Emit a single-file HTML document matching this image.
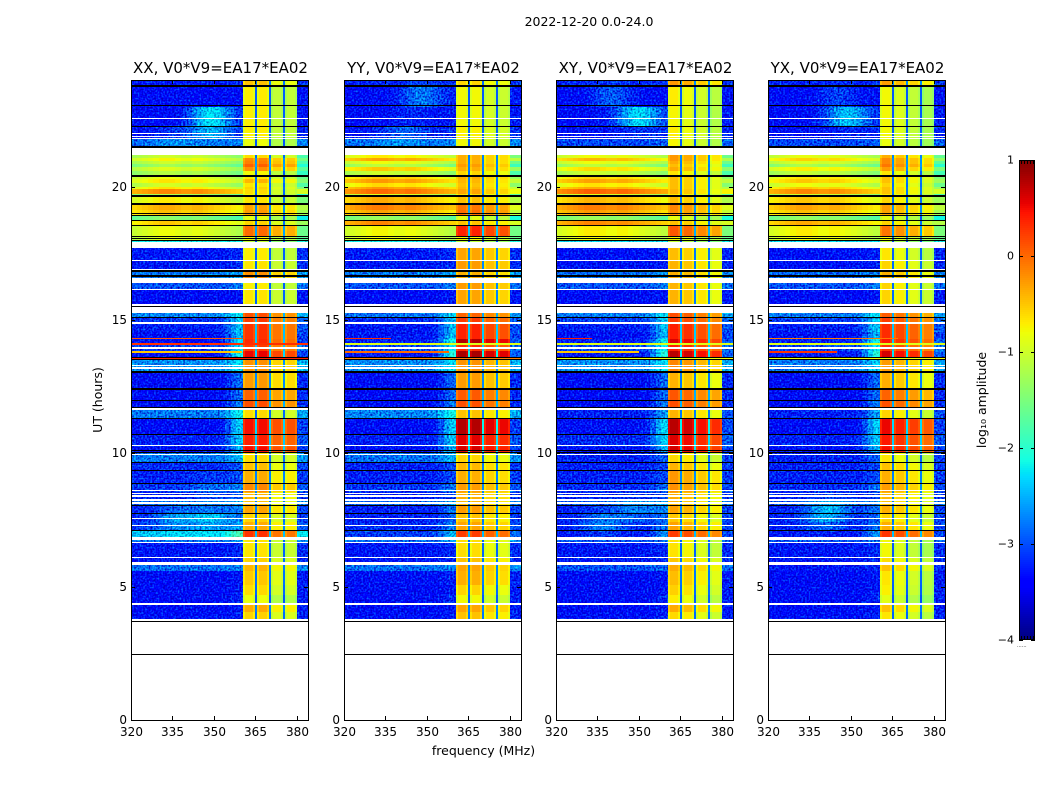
<!DOCTYPE html>
<html lang="en">
<head>
<meta charset="utf-8">
<title>2022-12-20 0.0-24.0</title>
<style>
html,body{margin:0;padding:0;background:#fff;width:1050px;height:800px;overflow:hidden}
svg{display:block}
text{font-family:"DejaVu Sans","Liberation Sans",sans-serif;fill:#000}
</style>
</head>
<body>
<svg id="figure" xmlns="http://www.w3.org/2000/svg" width="1050" height="800" viewBox="0 0 1050 800">
  <defs>
    <filter id="speckle" filterUnits="userSpaceOnUse" x="0" y="0" width="1050" height="800" color-interpolation-filters="sRGB">
      <feTurbulence type="fractalNoise" baseFrequency="0.55" numOctaves="1" seed="4" result="t"/>
      <feColorMatrix in="t" type="matrix" values="0 0 0 0 0.5  1.5 0 0 0 -0.25  1.1 0 0 0 -0.05  0 0 0 0 1" result="n"/>
      <feComposite in="SourceGraphic" in2="n" operator="arithmetic" k1="0" k2="1" k3="1" k4="-0.5" result="m"/>
      <feComposite in="m" in2="SourceAlpha" operator="in"/>
    </filter>
  </defs>
  <text x="589" y="26" font-size="12.5" text-anchor="middle">2022-12-20 0.0-24.0</text>
  <text transform="translate(102,400) rotate(-90)" font-size="12.5" text-anchor="middle">UT (hours)</text>
  <text x="483.5" y="755" font-size="12.5" text-anchor="middle">frequency (MHz)</text>
  <text transform="translate(986,400) rotate(-90)" font-size="12.5" text-anchor="middle">log₁₀ amplitude</text>
  <g id="panels"></g>
  <g id="colorbar"></g>
</svg>
<script>
// ---- chart data ----
const panelTitles = ["XX, V0*V9=EA17*EA02", "YY, V0*V9=EA17*EA02", "XY, V0*V9=EA17*EA02", "YX, V0*V9=EA17*EA02"];
const freqTicks = [320, 335, 350, 365, 380];
const utTicks = [0, 5, 10, 15, 20];
const colorbarTicks = [1, 0, -1, -2, -3, -4];

// time rows (UT hours, top to bottom)
const rowEdges = [24.00,23.74,22.99,22.24,21.79,21.19,21.08,20.96,20.85,20.74,20.59,20.40,20.29,20.14,19.99,19.91,19.73,19.61,19.31,19.13,18.90,18.71,18.53,18.15,17.96,17.70,17.21,16.80,16.39,16.13,15.26,15.08,14.85,14.55,14.29,14.10,13.84,13.58,13.01,12.41,11.96,11.63,11.29,10.69,10.24,10.01,9.64,9.34,8.85,8.55,8.25,8.06,7.73,7.43,7.13,6.86,6.64,6.08,5.85,5.59,5.06,4.69,4.35,4.05,3.77];

// log10 amplitude of the 320-360 MHz band per time row
const lowXX = [-3.3,-3.45,-3.45,-3.35,-2.9,-1.2,-.95,-1.2,-1.45,-1.1,-1.35,-1.0,-.85,-1.15,-.85,-.35,-1.4,-.9,-.55,-.65,-1.6,-.7,-1.0,-1.1,-2.2,-3.3,-3.3,-2.8,-3.0,-3.45,-2.75,-3.15,-3.25,-3.35,-3.4,-3.1,-3.4,-2.7,-3.4,-3.4,-3.4,-2.8,-3.4,-3.25,-3.35,-2.8,-3.2,-3.25,-3.15,-3.25,-2.9,-3.25,-3.25,-3.15,-2.45,-2.85,-3.3,-3.3,-2.85,-3.4,-3.4,-3.4,-3.4,-3.35];
const lowYY = [-3.25,-3.4,-3.4,-3.3,-2.85,-.9,-.5,-1.0,-1.3,-.7,-1.2,-.7,-.45,-.8,-.45,-.2,-1.1,-.55,-.3,-.5,-1.5,-.35,-.95,-1.0,-2.2,-3.3,-3.3,-2.8,-3.0,-3.4,-2.85,-3.2,-3.3,-3.3,-3.25,-3.05,-3.3,-2.7,-3.4,-3.4,-3.4,-2.75,-3.4,-3.25,-3.35,-2.85,-3.25,-3.25,-3.15,-3.25,-2.9,-3.25,-3.25,-3.2,-3.1,-2.85,-3.3,-3.3,-2.85,-3.35,-3.4,-3.4,-3.4,-3.35];
const lowXY = [-3.25,-3.45,-3.4,-3.35,-3.05,-1.0,-.6,-1.0,-1.3,-.8,-1.2,-.75,-.5,-.85,-.55,-.15,-1.1,-.6,-.3,-.45,-1.5,-.35,-.9,-1.0,-2.3,-3.35,-3.35,-2.85,-3.0,-3.4,-2.8,-3.1,-3.25,-3.35,-3.25,-3.05,-3.3,-2.7,-3.4,-3.4,-3.4,-3.25,-3.35,-3.2,-3.35,-3.25,-3.25,-3.25,-3.2,-3.25,-3.0,-3.25,-3.25,-3.25,-3.3,-3.0,-3.3,-3.3,-3.0,-3.4,-3.4,-3.4,-3.4,-3.35];
const lowYX = [-3.25,-3.45,-3.4,-3.35,-3.05,-1.05,-.75,-1.1,-1.4,-.9,-1.25,-.85,-.7,-1.0,-.7,-.35,-1.2,-.7,-.5,-.65,-1.55,-.55,-.9,-1.0,-2.3,-3.35,-3.35,-2.9,-3.0,-3.4,-2.8,-3.1,-3.25,-3.35,-3.25,-3.05,-3.3,-2.8,-3.4,-3.4,-3.4,-3.25,-3.4,-3.25,-3.35,-3.25,-3.25,-3.25,-3.2,-3.25,-3.0,-3.25,-3.25,-3.25,-3.3,-3.0,-3.3,-3.3,-3.3,-3.4,-3.4,-3.4,-3.4,-3.35];

// log10 amplitude of the 360-380 MHz band per time row
const highXX = [-.6,-.85,-.85,-.85,-.95,-.75,-.3,-.25,-.1,-.35,-.9,-.8,-.55,-.8,-.7,-.75,-.9,-.8,-.45,-.4,-1,-.7,-.15,-.9,-1.2,-.85,-.8,-.35,-.85,-.8,0,.1,.15,.15,.2,.1,.4,-.35,-.4,-.1,0,-.75,.35,.25,.35,-.75,-.6,-.5,-.3,-.55,-.6,-.45,-.7,-.5,.15,-.8,-.8,-.7,-.55,-.65,-.75,-.95,-.5,-.7];
const highYY = [-.7,-.9,-.9,-.85,-.9,-.5,-.5,-.5,-.4,-.5,-.7,-.5,-.55,-.6,-.55,-.45,-.75,-.6,-.2,-.15,-1,-.6,.25,-.9,-1.2,-.45,-.4,-.5,-.4,-.45,-.1,.1,.25,.25,.65,.2,.7,-.35,-.4,-.05,0,-.6,.65,.45,.5,-.7,-.55,-.5,-.4,-.5,-.55,-.4,-.6,-.45,.1,-.75,-.75,-.6,-.45,-.5,-.7,-.9,-.45,-.6];
const highXY = [-.4,-.85,-.9,-.85,-.9,-.4,-.4,-.5,-.6,-.5,-.8,-.6,-.6,-.6,-.6,-.55,-.8,-.6,-.3,-.35,-1,-.6,-.05,-.9,-1.2,-.6,-.55,-.5,-.55,-.55,0,.1,.25,.25,.45,.25,.6,-.3,-.55,-.05,0,-.55,.6,.45,.5,-.75,-.55,-.4,-.35,-.5,-.55,-.45,-.65,-.45,.1,-.8,-.8,-.65,-.5,-.6,-.7,-.85,-.5,-.75];
const highYX = [-.4,-.9,-.9,-.9,-.95,-.5,-.3,-.3,-.2,-.4,-.8,-.6,-.6,-.7,-.6,-.6,-.8,-.7,-.4,-.45,-1,-.7,-.2,-.9,-1.2,-.8,-.7,-.5,-.7,-.7,-.05,.1,.2,.2,.3,.15,.5,-.4,-.5,-.1,0,-.7,.4,.3,.35,-.8,-.6,-.5,-.4,-.55,-.6,-.5,-.7,-.5,.15,-.9,-.9,-.75,-.6,-.8,-.85,-1.0,-.6,-.8];

// rise toward 360 MHz per time row
const rowRamp = [.1,.1,.1,.1,.1,0,0,0,0,0,0,0,0,0,0,0,0,0,0,0,0,0,0,0,0,.1,.1,.2,.2,.1,.5,.7,.8,.8,1.1,.8,1.25,.4,.5,.5,.6,.6,1.0,.8,.8,.3,.2,.2,.3,.2,.3,.4,.3,.4,.6,.2,.1,.1,.1,.1,.1,.2,.1,.1];

// frequency columns (MHz)
const lowEdges = [320,322,324,326,328,330,332,334,336,338,340,342,344,346,348,350,352,354,356,358,360.4];
const brightShape = [-.05,0,.05,.1,.15,.2,.2,.2,.15,.1,.1,.15,.15,.1,.05,0,-.05,-.1,-.15,-.2];
const rampShape = [0,0,0,0,0,0,0,0,0,0,0,0,0,0,0,.03,.12,.4,.75,1];
const channelEdges = [[360.4,361.2,364,364.8],[365.5,366.2,369.3,370],[370.7,371.4,374.3,375],[375.6,376.3,379.3,380]];
const channelShape = [-.14,.03,-.12];
const chanXX = [.1,.12,-.25,-.25];
const chanYY = [.1,.1,-.1,-.15];
const chanXY = [.12,.02,-.15,-.3];
const chanYX = [.1,-.05,-.2,-.35];

// broad diffuse emission patches: panel, UT, MHz, log10 boost
const blobPanel = [0,0,0,0,0,0,1,1,1,2,2,2,2,3,3,3,3];
const blobUt = [22.55,22.05,21.75,7.55,7.55,8.7,23.4,22.3,21.8,22.55,23.35,7.9,7.4,22.6,23.2,7.95,7.6];
const blobFreq = [349,349,335,349,336,349,348,345,340,350,340,349,337,349,345,343,340];
const blobAmp = [1.1,.6,.3,.8,.6,.3,.6,.3,.3,1.1,.5,.5,.5,.9,.4,.5,.5];

// narrow interference lines: UT, per-panel level and upper frequency
const hotUt = [14.32,14.10,13.80,13.57];
const hotXX = [.1,.3,-.5,.4];
const hotYY = [.3,-.9,.0,-.1];
const hotXY = [.4,-.9,-.5,-.8];
const hotYX = [-.1,-.9,.3,-.8];
const hotEndXX = [360,384,360,384];
const hotEndYY = [337,384,358,384];
const hotEndXY = [333,384,350,384];
const hotEndYX = [367,384,345,384];

// flagged time ranges (UT hours: start/end pairs)
const blackStart = [23.81,23.08,22.29,21.53,20.44,19.69,19.39,19.01,18.94,18.75,18.56,18.15,18.08,18.00,16.86,16.67,15.54,15.11,13.62,13.55,13.07,12.45,12.00,11.74,11.33,10.73,10.13,10.05,9.68,9.38,8.89,8.06,7.76,7.13,3.71,2.48];
const blackEnd = [23.74,23.01,22.24,21.45,20.38,19.63,19.33,18.98,18.90,18.71,18.53,18.11,18.04,17.96,16.80,16.63,15.47,15.08,13.59,13.52,13.01,12.39,11.96,11.70,11.29,10.69,10.09,10.01,9.64,9.34,8.85,8.03,7.73,7.09,3.68,2.44];
const whiteStart = [22.58,22.01,21.90,21.83,21.45,17.93,17.25,16.91,16.59,16.16,15.60,15.47,14.91,13.97,13.33,13.22,11.70,10.31,9.99,8.64,8.53,8.42,8.29,8.16,7.58,7.31,6.86,6.69,6.13,5.91,4.39,3.77];
const whiteEnd = [22.52,21.98,21.86,21.79,21.19,17.70,17.21,16.86,16.39,16.13,15.54,15.26,14.85,13.91,13.28,13.16,11.64,10.26,9.94,8.59,8.48,8.36,8.21,8.10,7.54,7.28,6.75,6.64,6.08,5.81,4.33,3.71];

const lowByPanel = [lowXX, lowYY, lowXY, lowYX];
const highByPanel = [highXX, highYY, highXY, highYX];
const chanByPanel = [chanXX, chanYY, chanXY, chanYX];
const hotByPanel = [hotXX, hotYY, hotXY, hotYX];
const hotEndByPanel = [hotEndXX, hotEndYY, hotEndXY, hotEndYX];

// ---- layout and scales ----
const panelLeft = [131, 344, 556, 768];
const panelWidth = 177;
const plotTop = 80, plotBottom = 720;
const freqMin = 320, freqMax = 384, utMax = 24;
const cbLeft = 1019, cbRight = 1035, cbTop = 160, cbBottom = 640;
const NS = "http://www.w3.org/2000/svg";

function xScale(p, f) { return panelLeft[p] + (f - freqMin) * panelWidth / (freqMax - freqMin); }
function yScale(u) { return plotBottom - u * (plotBottom - plotTop) / utMax; }
function cbScale(v) { return cbBottom - (v + 4) * (cbBottom - cbTop) / 5; }

function jet(v) {
  const t = Math.max(0, Math.min(1, (v + 4) / 5));
  const seg = (pts) => {
    for (let i = 1; i < pts.length; i++) {
      if (t <= pts[i][0]) {
        const a = pts[i - 1], b = pts[i];
        return a[1] + (b[1] - a[1]) * (t - a[0]) / (b[0] - a[0]);
      }
    }
    return pts[pts.length - 1][1];
  };
  const r = seg([[0,0],[.35,0],[.66,1],[.89,1],[1,.5]]);
  const g = seg([[0,0],[.125,0],[.375,1],[.64,1],[.91,0],[1,0]]);
  const b = seg([[0,.5],[.11,1],[.34,1],[.65,0],[1,0]]);
  return "rgb(" + Math.round(r * 255) + "," + Math.round(g * 255) + "," + Math.round(b * 255) + ")";
}

function blobBoost(p, u, f) {
  let s = 0;
  for (let i = 0; i < blobUt.length; i++) {
    if (blobPanel[i] !== p) continue;
    const du = (u - blobUt[i]) / 0.42, df = (f - blobFreq[i]) / 8;
    s += blobAmp[i] * Math.exp(-(du * du + df * df));
  }
  return s;
}

function addCell(parent, p, f0, f1, u0, u1, value) {
  const x0 = Math.round(xScale(p, f0)), x1 = Math.round(xScale(p, f1));
  const y0 = Math.round(yScale(u0)), y1 = Math.round(yScale(u1));
  const el = document.createElementNS(NS, "rect");
  
  
  el.setAttribute("x", x0);
  el.setAttribute("y", y0);
  el.setAttribute("width", Math.max(1, x1 - x0));
  el.setAttribute("height", Math.max(1, y1 - y0));
  el.setAttribute("fill", jet(value));
  el.setAttribute("shape-rendering", "crispEdges");
  parent.appendChild(el);
}

function addBand(parent, p, u0, u1, color, name) {
  const el = document.createElementNS(NS, "rect");
  
  
  const y0 = Math.round(yScale(u0)), y1 = Math.round(yScale(u1));
  el.setAttribute("x", panelLeft[p]);
  el.setAttribute("y", y0);
  el.setAttribute("width", panelWidth);
  el.setAttribute("height", Math.max(1, y1 - y0));
  el.setAttribute("fill", color);
  el.setAttribute("shape-rendering", "crispEdges");
  parent.appendChild(el);
}

function addLine(parent, x1, y1, x2, y2, name) {
  const el = document.createElementNS(NS, "line");
  
  
  el.setAttribute("x1", x1);
  el.setAttribute("y1", y1);
  el.setAttribute("x2", x2);
  el.setAttribute("y2", y2);
  el.setAttribute("stroke", "#000");
  el.setAttribute("stroke-width", "1");
  el.setAttribute("shape-rendering", "crispEdges");
  parent.appendChild(el);
}

function addText(parent, x, y, str, size, anchor, name) {
  const el = document.createElementNS(NS, "text");
  
  
  el.setAttribute("x", x);
  el.setAttribute("y", y);
  el.setAttribute("font-size", size);
  el.setAttribute("text-anchor", anchor);
  el.textContent = str;
  parent.appendChild(el);
}

function drawPanel(p) {
  const root = document.getElementById("panels");
  const g = document.createElementNS(NS, "g");
  
  
  root.appendChild(g);
  const noisy = document.createElementNS(NS, "g");
  noisy.setAttribute("filter", "url(#speckle)");
  
  
  const smooth = document.createElementNS(NS, "g");
  
  
  g.appendChild(noisy);
  g.appendChild(smooth);

  const low = lowByPanel[p], high = highByPanel[p], chan = chanByPanel[p];
  for (let r = 0; r < low.length; r++) {
    const u0 = rowEdges[r], u1 = rowEdges[r + 1], um = (u0 + u1) / 2;
    const bright = low[r] > -2;
    for (let c = 0; c < lowEdges.length - 1; c++) {
      const fm = (lowEdges[c] + lowEdges[c + 1]) / 2;
      const v = bright ? low[r] + brightShape[c] : low[r] + rowRamp[r] * rampShape[c] + blobBoost(p, um, fm);
      addCell(bright ? smooth : noisy, p, lowEdges[c], lowEdges[c + 1], u0, u1, v);
    }
    for (let k = 0; k < channelEdges.length; k++) {
      const e = channelEdges[k];
      for (let s = 0; s < channelShape.length; s++) {
        addCell(smooth, p, e[s], e[s + 1], u0, u1, high[r] + chan[k] + channelShape[s]);
      }
      const gapEnd = k < channelEdges.length - 1 ? channelEdges[k + 1][0] : e[3];
      if (gapEnd > e[3]) {
        addCell(smooth, p, e[3], gapEnd, u0, u1, -3.0 + 0.5 * (high[r] + 1));
      }
    }
    const right = bright ? low[r] - 0.6 : low[r] + 0.1 + rowRamp[r] * 0.2;
    addCell(bright ? smooth : noisy, p, 380, freqMax, u0, u1, right);
  }

  for (let i = 0; i < hotUt.length; i++) {
    addCell(smooth, p, freqMin, hotEndByPanel[p][i], hotUt[i] + 0.02, hotUt[i] - 0.02, hotByPanel[p][i]);
  }
  for (let i = 0; i < whiteStart.length; i++) {
    addBand(g, p, whiteStart[i], whiteEnd[i], "#fff", "flagged-white-band");
  }
  for (let i = 0; i < blackStart.length; i++) {
    addBand(g, p, blackStart[i], blackEnd[i], "#000", "flagged-black-band");
  }

  const frame = document.createElementNS(NS, "rect");
  
  
  frame.setAttribute("x", panelLeft[p] + 0.5);
  frame.setAttribute("y", plotTop + 0.5);
  frame.setAttribute("width", panelWidth);
  frame.setAttribute("height", plotBottom - plotTop);
  frame.setAttribute("fill", "none");
  frame.setAttribute("stroke", "#000");
  frame.setAttribute("shape-rendering", "crispEdges");
  g.appendChild(frame);

  for (const f of freqTicks) {
    const x = Math.round(xScale(p, f)) + 0.5;
    addLine(g, x, plotBottom, x, plotBottom - 4, 'x-tick');
    addLine(g, x, plotTop, x, plotTop + 4, 'x-tick');
    addText(g, x, plotBottom + 16, String(f), 12, "middle", 'x-tick-label');
  }
  for (const u of utTicks) {
    const y = Math.round(yScale(u)) + 0.5;
    addLine(g, panelLeft[p], y, panelLeft[p] + 4, y, 'y-tick');
    addLine(g, panelLeft[p] + panelWidth, y, panelLeft[p] + panelWidth - 4, y, 'y-tick');
    addText(g, panelLeft[p] - 4, y + 3.5, String(u), 12, "end", 'y-tick-label');
  }
  addText(g, panelLeft[p] + panelWidth / 2 + 1, plotTop - 7, panelTitles[p], 15, "middle", 'panel-title');
}

function drawColorbar() {
  const g = document.getElementById("colorbar");
  for (let y = cbTop; y < cbBottom; y += 2) {
    const v = -4 + (cbBottom - y - 1) * 5 / (cbBottom - cbTop);
    const el = document.createElementNS(NS, "rect");
    
    
    el.setAttribute("x", cbLeft);
    el.setAttribute("y", y);
    el.setAttribute("width", cbRight - cbLeft);
    el.setAttribute("height", 2);
    el.setAttribute("fill", jet(v));
    el.setAttribute("shape-rendering", "crispEdges");
    g.appendChild(el);
  }
  const frame = document.createElementNS(NS, "rect");
  
  
  frame.setAttribute("x", cbLeft + 0.5);
  frame.setAttribute("y", cbTop + 0.5);
  frame.setAttribute("width", cbRight - cbLeft - 1);
  frame.setAttribute("height", cbBottom - cbTop - 1);
  frame.setAttribute("fill", "none");
  frame.setAttribute("stroke", "#000");
  frame.setAttribute("shape-rendering", "crispEdges");
  g.appendChild(frame);
  for (const v of colorbarTicks) {
    const y = Math.round(cbScale(v)) + 0.5;
    addLine(g, cbLeft, y, cbLeft + 4, y, 'colorbar-tick');
    addLine(g, cbRight, y, cbRight - 4, y, 'colorbar-tick');
    addText(g, cbLeft - 5, y + 3, String(v).replace("-", "\u2212"), 11, "end", 'colorbar-tick-label');
  }
  for (let x = cbLeft + 2; x < cbRight - 1; x += 3) {
    addLine(g, x + 0.5, cbTop, x + 0.5, cbTop + 4, 'colorbar-edge-tick');
    addLine(g, x + 0.5, cbBottom, x + 0.5, cbBottom - 4, 'colorbar-edge-tick');
  }
  addText(g, cbLeft - 2, cbBottom + 7, "......", 5, "start", 'colorbar-bottom-labels');
}

for (let p = 0; p < panelTitles.length; p++) drawPanel(p);
drawColorbar();
</script>
</body>
</html>
